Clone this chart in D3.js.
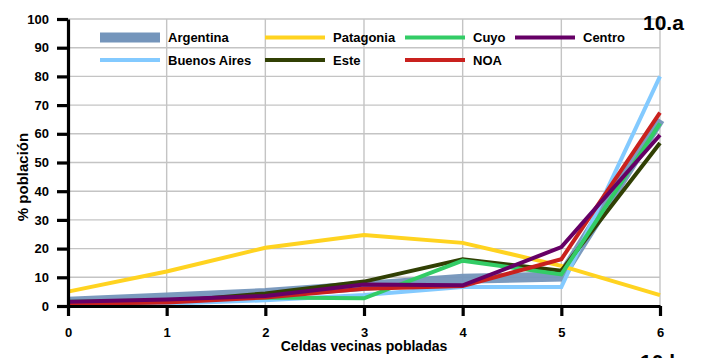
<!DOCTYPE html>
<html>
<head>
<meta charset="utf-8">
<script src="https://cdn.jsdelivr.net/npm/d3@7"></script>
<style>
  html, body { margin: 0; padding: 0; background: #fff; }
  svg { display: block; }
  text { font-family: "Liberation Sans", Arial, sans-serif; font-weight: bold; fill: #000; }
</style>
</head>
<body>
<svg id="chart" width="702" height="358"></svg>
<script>
// Share of population by number of populated neighbouring cells
const categories = [0, 1, 2, 3, 4, 5, 6];
const yTicks = [0, 10, 20, 30, 40, 50, 60, 70, 80, 90, 100];

const seriesNames = ["Argentina", "Buenos Aires", "Patagonia", "Este", "Cuyo", "NOA", "Centro"];
const argentina   = [1.5, 3.0, 4.5, 7.0, 9.5, 10.3, 65.0];
const buenosAires = [0.3, 0.8, 2.0, 3.8, 6.6, 6.6, 80.0];
const patagonia   = [5.0, 12.0, 20.3, 24.7, 22.0, 14.0, 3.8];
const este        = [0.5, 1.5, 4.4, 8.5, 16.3, 12.3, 56.8];
const cuyo        = [1.5, 2.0, 3.0, 2.7, 15.8, 11.0, 63.6];
const noa         = [0.9, 1.2, 3.0, 6.0, 7.0, 16.3, 67.4];
const centro      = [1.5, 2.3, 3.5, 7.5, 7.2, 20.5, 59.6];

const seriesValues = [argentina, buenosAires, patagonia, este, cuyo, noa, centro];
const seriesColors = ["#7495bb", "#83caff", "#ffd320", "#314004", "#33cc66", "#c9211e", "#660066"];
const seriesWidths = [10, 4, 4, 4, 4, 4, 4];

const svg = d3.select("#chart");
const plotLeft = 68, plotRight = 660, plotTop = 19, plotBottom = 306;

const x = d3.scaleLinear().domain([0, 6]).range([plotLeft, plotRight]);
const y = d3.scaleLinear().domain([0, 100]).range([plotBottom, plotTop]);

// grid
const grid = svg.append("g").attr("stroke", "#c4c4c4").attr("stroke-width", 1.4);
grid.selectAll("line.h").data(yTicks.slice(1)).join("line")
  .attr("class", "h")
  .attr("x1", plotLeft).attr("x2", plotRight)
  .attr("y1", d => y(d)).attr("y2", d => y(d));
grid.selectAll("line.v").data(categories.slice(1)).join("line")
  .attr("class", "v")
  .attr("x1", d => x(d)).attr("x2", d => x(d))
  .attr("y1", plotTop).attr("y2", plotBottom);

// series lines
const line = d3.line().x((d, i) => x(categories[i])).y(d => y(d));
svg.append("g").selectAll("path").data(seriesValues).join("path")
  .attr("d", d => line(d))
  .attr("fill", "none")
  .attr("stroke", (d, i) => seriesColors[i])
  .attr("stroke-width", (d, i) => seriesWidths[i])
  .attr("stroke-linejoin", "miter")
  .attr("opacity", (d, i) => i === 0 ? 0.95 : 1);

// axes
const yAxis = svg.append("g").attr("transform", `translate(${plotLeft},0)`)
  .call(d3.axisLeft(y).tickValues(yTicks).tickSize(11).tickSizeOuter(0).tickPadding(8));
const xAxis = svg.append("g").attr("transform", `translate(0,${plotBottom})`)
  .call(d3.axisBottom(x).tickValues(categories).tickSize(10).tickSizeOuter(0).tickPadding(12).tickFormat(d3.format("d")));
[yAxis, xAxis].forEach(g => {
  g.selectAll("path, line").attr("stroke", "#000").attr("stroke-width", 3.2);
  g.selectAll("text").attr("font-size", 13).attr("font-weight", "bold")
    .attr("font-family", '"Liberation Sans", Arial, sans-serif').attr("fill", "#000");
});

// axis titles
svg.append("text").attr("x", x(3)).attr("y", 351)
  .attr("text-anchor", "middle").attr("font-size", 14)
  .text("Celdas vecinas pobladas");
svg.append("text").attr("transform", "translate(28,177) rotate(-90)")
  .attr("text-anchor", "middle").attr("font-size", 15)
  .text("% población");

// panel labels
svg.append("text").attr("x", 643).attr("y", 29.5).attr("font-size", 21).text("10.a");
svg.append("text").attr("x", 640).attr("y", 369).attr("font-size", 21).text("10.b");

// legend, filled column by column in two rows
const legendCols = [100, 265, 405, 515];
const legendRows = [37.5, 60];
const legend = svg.append("g").selectAll("g").data(seriesNames).join("g")
  .attr("transform", (d, i) => `translate(${legendCols[Math.floor(i / 2)]},${legendRows[i % 2]})`);
legend.append("line")
  .attr("x1", 0).attr("x2", 60).attr("y1", 0).attr("y2", 0)
  .attr("stroke", (d, i) => seriesColors[i])
  .attr("stroke-width", (d, i) => seriesWidths[i]);
legend.append("text")
  .attr("x", 68).attr("dy", "0.35em").attr("font-size", 13)
  .text(d => d);
</script>
</body>
</html>
